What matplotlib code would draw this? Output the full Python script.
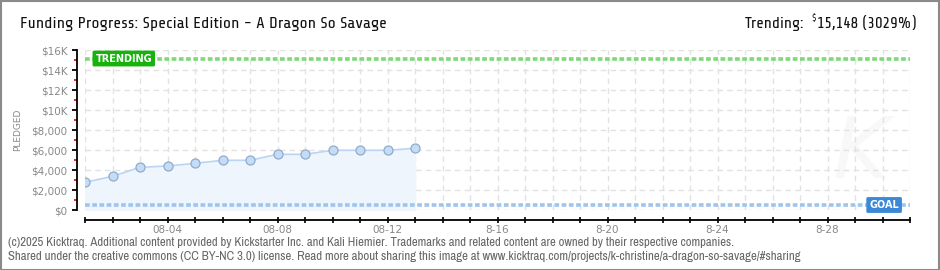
import matplotlib
matplotlib.use("Agg")
import matplotlib.pyplot as plt
from matplotlib.patches import Rectangle
from matplotlib.ticker import FixedLocator
from matplotlib import font_manager

# ---------------- data ----------------
day_index = list(range(13))  # 08-01 .. 08-13
pledged = [2770, 3370, 4270, 4400, 4670, 4970, 4970, 5570, 5570, 5970, 5970, 5970, 6170]
goal = 500
trending = 15148
trending_pct = 3029
x_label_pos = [3, 7, 11, 15, 19, 23, 27]
x_label_txt = ["08-04", "08-08", "08-12", "8-16", "8-20", "8-24", "8-28"]
y_tick_vals = [0, 2000, 4000, 6000, 8000, 10000, 12000, 14000, 16000]
y_tick_txt = ["$0", "$2,000", "$4,000", "$6,000", "$8,000", "$10K", "$12K", "$14K", "$16K"]
title = "Funding Progress: Special Edition - A Dragon So Savage"
footer1 = "(c)2025 Kicktraq. Additional content provided by Kickstarter Inc. and Kali Hiemier. Trademarks and related content are owned by their respective companies."
footer2 = "Shared under the creative commons (CC BY-NC 3.0) license. Read more about sharing this image at www.kicktraq.com/projects/k-christine/a-dragon-so-savage/#sharing"

avail = {f.name for f in font_manager.fontManager.ttflist}

def pick(prefs):
    for p in prefs:
        if p in avail:
            return p
    return 'DejaVu Sans'

head_font = pick(['Share Tech', 'Electrolize', 'Oxanium', 'Exo 2', 'Archivo Narrow', 'DejaVu Sans'])
foot_font = pick(['Archivo Narrow', 'Asap Condensed', 'Barlow Semi Condensed', 'DejaVu Sans'])
tick_font = 'DejaVu Sans'
plt.rcParams['font.family'] = [tick_font]

W, H = 940, 270
PT = 72 / 100  # points per pixel at dpi 100
fig = plt.figure(figsize=(W / 100, H / 100), dpi=100)

def fx(px):
    return px / W

def fy(py):
    return 1 - py / H

ax = fig.add_axes([fx(85), fy(210), fx(910) - fx(85), (210 - 50) / H])
ax.set_xlim(0, 30)
ax.set_ylim(0, 16000)

ax.xaxis.set_major_locator(FixedLocator(x_label_pos))
ax.xaxis.set_minor_locator(FixedLocator([d for d in range(31) if d not in x_label_pos]))
ax.set_yticks(y_tick_vals)
ax.yaxis.set_minor_locator(FixedLocator([1000, 3000, 5000, 7000, 9000, 11000, 13000, 15000]))
ax.xaxis.grid(True, which='both', color='#e2e2e2', linestyle=(0, (4, 3)), linewidth=1)
ax.yaxis.grid(True, which='major', color='#e2e2e2', linestyle=(0, (4, 3)), linewidth=1)
ax.set_axisbelow(True)

# faint watermark
ax.text(28.2, 5500, "K", fontsize=62, fontstyle='italic', color='#f8f8f8', ha='center',
        va='center', zorder=0, family='DejaVu Sans')

ax.fill_between(day_index, pledged, 0, color='#eef5fd', zorder=1)
ax.plot(day_index, pledged, color='#b9d5f3', linewidth=1.2, zorder=3)
ax.plot(day_index, pledged, linestyle='none', marker='o', markersize=6.5,
        markerfacecolor='#c4dcf6', markeredgecolor='#90abcc', markeredgewidth=0.9, zorder=4)

ax.axhline(trending, color='#7fd879', linewidth=2.6, linestyle=(0, (1.3, 0.7)), zorder=2)
ax.axhline(goal, color='#9fc5ee', linewidth=2.6, linestyle=(0, (1.3, 0.7)), zorder=2)

ax.text(0.38, trending, "TRENDING", color='white', fontsize=7, fontweight='bold',
        family='DejaVu Sans', ha='left', va='center', zorder=6,
        bbox=dict(boxstyle='round,pad=0.3,rounding_size=0.15', fc='#17b20c', ec='none'))
ax.text(29.6, goal, "GOAL", color='white', fontsize=7, fontweight='bold',
        family='DejaVu Sans', ha='right', va='center', zorder=6,
        bbox=dict(boxstyle='round,pad=0.3,rounding_size=0.15', fc='#3b88d6', ec='none'))

for s in ['top', 'right']:
    ax.spines[s].set_visible(False)
ax.spines['left'].set_position(('outward', 8.3 * PT))
ax.spines['bottom'].set_position(('outward', 10 * PT))
ax.spines['left'].set_linewidth(1.3)
ax.spines['bottom'].set_linewidth(1.3)

ax.set_yticklabels(y_tick_txt)
ax.set_xticklabels(x_label_txt)
ax.tick_params(axis='y', which='major', length=5 * PT, width=1.3, color='black', labelsize=7.5,
               labelcolor='#888888', pad=3)
ax.tick_params(axis='y', which='minor', length=3.5 * PT, width=1.2, color='#e00000')
ax.tick_params(axis='x', which='both', direction='inout', length=6 * PT, width=1.2, color='black',
               labelsize=7.5, labelcolor='#888888', pad=1.5)

fig.text(fx(18), fy(130), "PLEDGED", rotation=90, ha='center', va='center',
         fontsize=6.5, color='#888888', family='DejaVu Sans')

fig.canvas.draw()
r = fig.canvas.get_renderer()

def fit(t, target):
    w = t.get_window_extent(r).width
    t.set_fontsize(t.get_fontsize() * target / w)

t_title = fig.text(fx(20), fy(24), title, fontsize=13, color='#111111', ha='left', va='center',
                   family=head_font)
fit(t_title, 368)

t_num = fig.text(fx(917), fy(24), f"{trending:,} ({trending_pct}%)", fontsize=13,
                 color='#111111', ha='right', va='center', family=head_font)
fit(t_num, 100)
bb = t_num.get_window_extent(r)
t_d = fig.text((bb.x0 - 1) / W, fy(19), "$", fontsize=t_num.get_fontsize() * 0.6,
               color='#111111', ha='right', va='center', family=head_font)
bb2 = t_d.get_window_extent(r)
t_tr = fig.text((bb2.x0 - 8) / W, fy(24), "Trending:", fontsize=13, color='#111111',
                ha='right', va='center', family=head_font)
t_tr.set_fontsize(t_num.get_fontsize())

f1 = fig.text(fx(8), fy(243), footer1, fontsize=7.3, color='#666666', ha='left', va='center',
              family=foot_font)
fit(f1, 728)
f2 = fig.text(fx(8), fy(256), footer2, fontsize=7.3, color='#666666', ha='left', va='center',
              family=foot_font)
fit(f2, 792)

fig.add_artist(Rectangle((0.5 / W, 0.5 / H), 1 - 1.5 / W, 1 - 1.5 / H, transform=fig.transFigure,
                         fill=False, edgecolor='#8a8a8a', linewidth=1.5))

fig.savefig("out.png", dpi=100)
